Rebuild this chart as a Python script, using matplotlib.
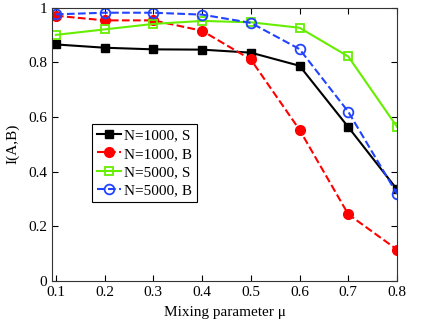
import matplotlib
matplotlib.use("Agg")
import matplotlib.pyplot as plt

mu = [0.1, 0.2, 0.3, 0.4, 0.5, 0.6, 0.7, 0.8]
n1000_s = [0.865, 0.853, 0.847, 0.846, 0.835, 0.787, 0.563, 0.335]
n1000_b = [0.970, 0.953, 0.953, 0.915, 0.810, 0.553, 0.244, 0.115]
n5000_s = [0.900, 0.920, 0.940, 0.951, 0.946, 0.926, 0.821, 0.564]
n5000_b = [0.975, 0.981, 0.981, 0.974, 0.944, 0.848, 0.619, 0.319]

plt.rcParams["font.family"] = ["Liberation Serif", "DejaVu Serif"]
plt.rcParams["font.size"] = 11

fig = plt.figure(figsize=(4.35, 3.27), dpi=100)
ax = fig.add_axes([0.1195, 0.1407, 0.7931, 0.8363])

ax.plot(mu, n1000_s, "-", color="black", lw=1.5, marker="s", ms=6, label="N=1000, S")
ax.plot(mu, n1000_b, "--", color="red", lw=1.5, marker="o", ms=7, label="N=1000, B")
ax.plot(mu, n5000_s, "-", color="#66ee00", lw=1.5, marker="s", ms=6, mfc="none", mew=1.3, label="N=5000, S")
ax.plot(mu, n5000_b, "--", color="#2244ff", lw=1.5, marker="o", ms=7, mfc="none", mew=1.3, label="N=5000, B")

ax.set_xlim(0.092, 0.8)
ax.set_ylim(0, 1)
ax.set_xticks(mu)
ax.set_xticklabels([str(m) for m in mu])
ax.set_yticks([0, 0.2, 0.4, 0.6, 0.8, 1])
ax.set_yticklabels(["0", "0.2", "0.4", "0.6", "0.8", "1"])
ax.tick_params(direction="in", top=True, right=True, length=4, labelsize=11)
for s in ax.spines.values():
    s.set_color("#333333")
ax.set_xlabel("Mixing parameter μ", fontsize=11, labelpad=5)
ax.set_ylabel("I(A,B)", fontsize=11, labelpad=6)

leg = ax.legend(loc="lower left", bbox_to_anchor=(0.116, 0.289), fontsize=11,
                fancybox=False, edgecolor="black", framealpha=1, handlelength=1.6,
                handletextpad=0.2, borderpad=0.3, labelspacing=0.3, borderaxespad=0)
leg.get_frame().set_linewidth(0.8)

fig.savefig("out.png", dpi=100)
